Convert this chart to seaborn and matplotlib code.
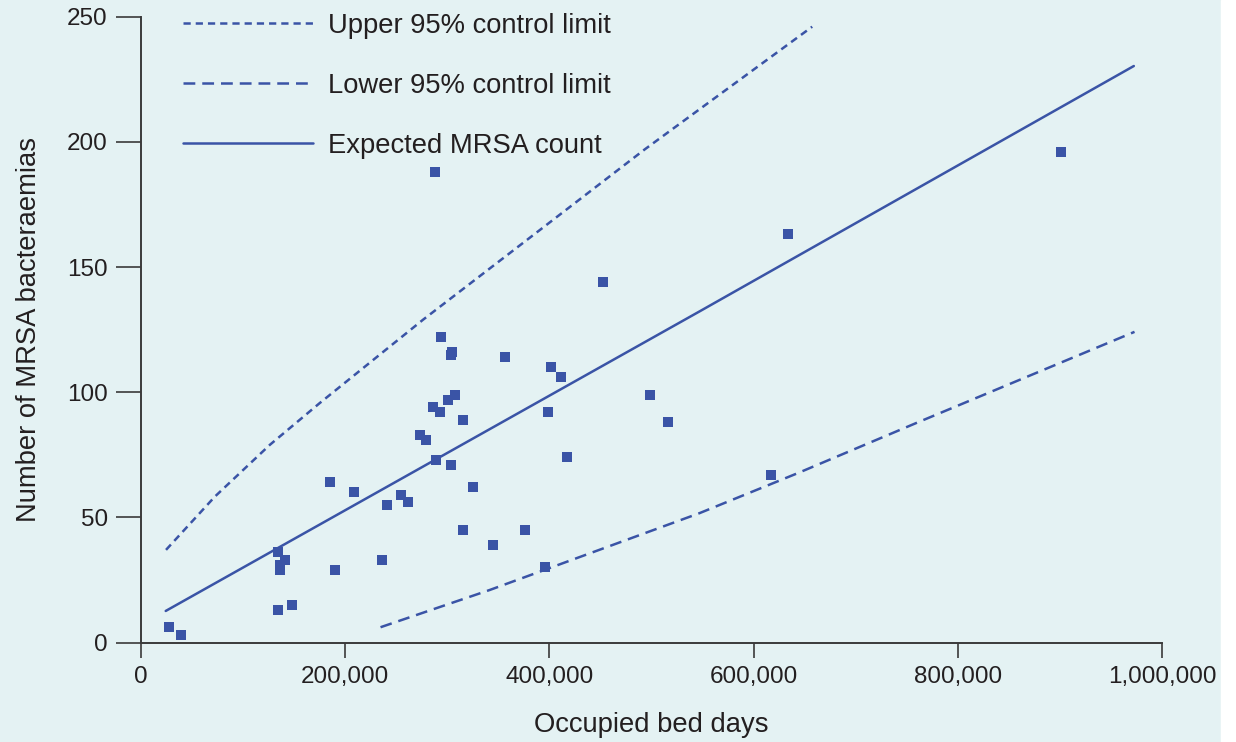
import matplotlib
matplotlib.use("Agg")
import matplotlib.pyplot as plt
from matplotlib.patches import Rectangle
from matplotlib.ticker import FuncFormatter
import seaborn as sns
import pandas as pd

# Trust-level MRSA bacteraemia counts against occupied bed days
bed_days = [27100, 38900, 133800, 141000, 135800, 135800, 134400, 147500,
            185300, 189900, 208500, 236200, 241100, 254500, 261100, 272800,
            279000, 289100, 286200, 292700, 293400, 304200, 303800, 300500,
            308000, 303500, 315500, 315200, 325300, 288100, 357000, 402000,
            411200, 398400, 452300, 498600, 516600, 417300, 634000, 617400,
            376000, 344600, 395500, 900900]
mrsa_counts = [6, 3, 36, 33, 31, 29, 13, 15,
               64, 29, 60, 33, 55, 59, 56, 83,
               81, 73, 94, 92, 122, 116, 115, 97,
               99, 71, 89, 45, 62, 188, 114, 110,
               106, 92, 144, 99, 88, 74, 163, 67,
               45, 39, 30, 196]

# Funnel lines
expected_x = [24200, 547200, 972400]
expected_y = [12.6, 132.3, 230.3]
upper_x = [24500, 72400, 126300, 175200, 276400, 380800, 493400, 657400]
upper_y = [37.0, 58.3, 79.0, 95.7, 129.0, 161.7, 197.0, 246.0]
lower_x = [234600, 341700, 547200, 643500, 759400, 973100]
lower_y = [6.1, 21.0, 51.7, 67.7, 87.7, 124.1]

x_ticks = [0, 200000, 400000, 600000, 800000, 1000000]
y_ticks = [0, 50, 100, 150, 200, 250]

BG = "#e4f2f3"
BLUE = "#3a54a6"
INK = "#231f20"

sns.set_theme(style="white")
plt.rcParams["font.family"] = ["Liberation Sans", "DejaVu Sans"]
plt.rcParams["lines.scale_dashes"] = False

W, H = 1236, 742
fig = plt.figure(figsize=(W / 100, H / 100), dpi=100, facecolor=BG)
x0, x1, y0, y1 = 141, 1162, 642.5, 16.7
ax = fig.add_axes([x0 / W, 1 - y0 / H, (x1 - x0) / W, (y0 - y1) / H])
ax.set_facecolor(BG)

pts = pd.DataFrame({"days": bed_days, "count": mrsa_counts})
exp_df = pd.DataFrame({"days": expected_x, "count": expected_y})
up_df = pd.DataFrame({"days": upper_x, "count": upper_y})
lo_df = pd.DataFrame({"days": lower_x, "count": lower_y})

sns.lineplot(data=up_df, x="days", y="count", ax=ax, color=BLUE, lw=1.8,
             linestyle=(0, (5.2, 3.6)), estimator=None, sort=False,
             label="Upper 95% control limit")
sns.lineplot(data=lo_df, x="days", y="count", ax=ax, color=BLUE, lw=1.8,
             linestyle=(0, (8.5, 5.0)), estimator=None, sort=False,
             label="Lower 95% control limit")
sns.lineplot(data=exp_df, x="days", y="count", ax=ax, color=BLUE, lw=1.8,
             estimator=None, sort=False, label="Expected MRSA count")
sns.scatterplot(data=pts, x="days", y="count", ax=ax, marker="s", s=58,
                color=BLUE, linewidth=0, zorder=3, legend=False)

ax.set_xlim(0, 1000000)
ax.set_ylim(0, 250)
ax.set_xticks(x_ticks)
ax.set_yticks(y_ticks)
ax.xaxis.set_major_formatter(FuncFormatter(lambda v, p: f"{int(v):,}"))

for side in ("top", "right"):
    ax.spines[side].set_visible(False)
for side in ("left", "bottom"):
    ax.spines[side].set_color("#3a3a3a")
    ax.spines[side].set_linewidth(1.4)

ax.tick_params(axis="y", direction="out", length=18, width=1.2, pad=6,
               labelsize=17.5, colors="#3a3a3a", labelcolor=INK, left=True)
ax.tick_params(axis="x", direction="out", length=11, width=1.2, pad=6,
               labelsize=17.5, colors="#3a3a3a", labelcolor=INK, bottom=True)

ax.set_xlabel("Occupied bed days", fontsize=19.7, color=INK, labelpad=17)
ax.set_ylabel("Number of MRSA bacteraemias", fontsize=19.7, color=INK,
              labelpad=18)

handles, labels = ax.get_legend_handles_labels()
ax.legend(handles, labels, loc="upper left",
          bbox_to_anchor=(183 / W, 1 - 13 / H), bbox_transform=fig.transFigure,
          frameon=False, fontsize=19.7, handlelength=4.75, handletextpad=0.55,
          labelspacing=1.24, borderpad=0, borderaxespad=0, labelcolor=INK)

# plain margin strip on the right edge
fig.add_artist(Rectangle((1221 / W, 0), 1 - 1221 / W, 1,
                         transform=fig.transFigure, color="white", zorder=-1))

fig.savefig("out.png", dpi=100, facecolor=BG)
